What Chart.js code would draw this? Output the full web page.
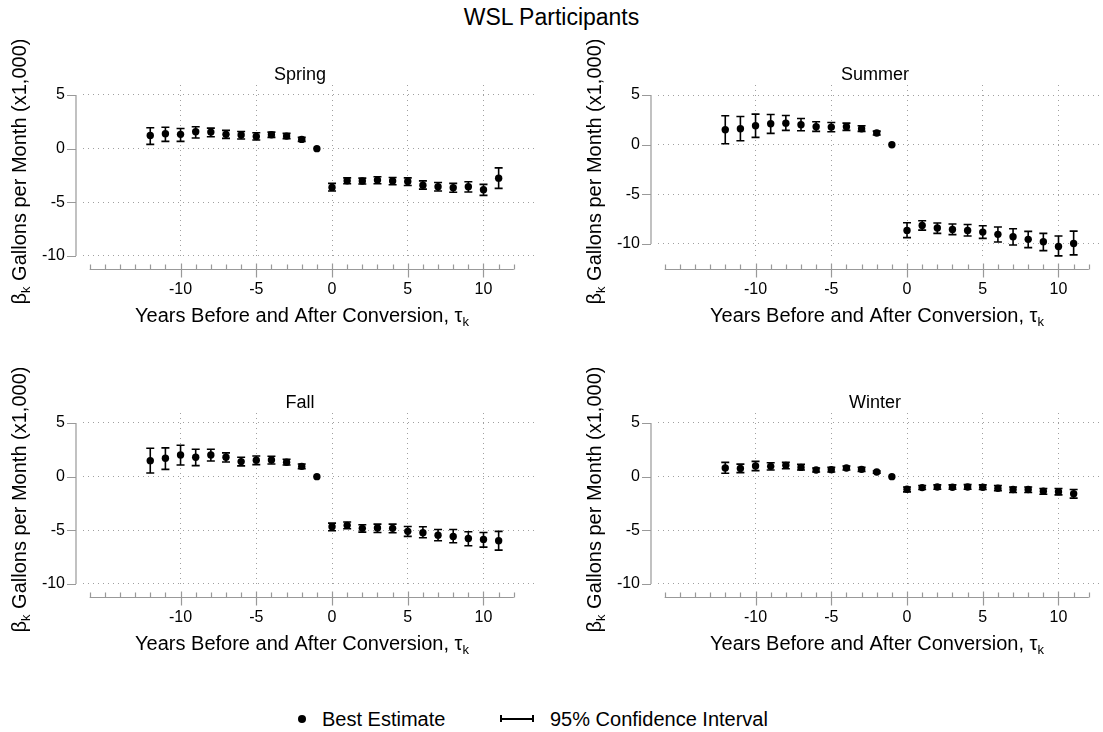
<!DOCTYPE html>
<html>
<head>
<meta charset="utf-8">
<script src="https://cdn.jsdelivr.net/npm/chart.js@4.4.1/dist/chart.umd.min.js"></script>
<style>
  body { margin: 0; width: 1103px; height: 732px; overflow: hidden; background: #fff;
         font-family: "Liberation Sans", Arial, sans-serif; color: #000; position: relative; }
  #title { position: absolute; top: 4px; left: 0; width: 1103px; text-align: center; font-size: 23px; }
  canvas { position: absolute; }
  .leg { position: absolute; top: 707px; font-size: 20px; line-height: 24px; white-space: nowrap; }
  .dot { position: absolute; top: 715px; left: 298px; width: 8px; height: 8px; border-radius: 50%; background: #000; }
  .ci { position: absolute; top: 715px; left: 500px; width: 30px; height: 7px;
        border-left: 2px solid #000; border-right: 2px solid #000; }
  .ci::after { content: ""; position: absolute; left: 0; right: 0; top: 2.5px; height: 2px; background: #000; }
</style>
</head>
<body>
<div id="title">WSL Participants</div>
<canvas id="spring" width="575" height="300" style="left:0;top:40px"></canvas>
<canvas id="summer" width="575" height="300" style="left:575px;top:40px"></canvas>
<canvas id="fall" width="575" height="300" style="left:0;top:368px"></canvas>
<canvas id="winter" width="575" height="300" style="left:575px;top:368px"></canvas>
<span class="dot"></span><span class="leg" style="left:322px">Best Estimate</span>
<span class="ci"></span><span class="leg" style="left:550px">95% Confidence Interval</span>
<script>
// years relative to conversion
const years = [-12,-11,-10,-9,-8,-7,-6,-5,-4,-3,-2,-1,0,1,2,3,4,5,6,7,8,9,10,11];
const xTicks = [-10, -5, 0, 5, 10];
const yTicks = [-10, -5, 0, 5];
const xAxisFrom = -16, xAxisTo = 12;

const springEst = [1.23,1.39,1.33,1.57,1.54,1.33,1.27,1.14,1.30,1.17,0.86,0,-3.61,-3.00,-3.02,-2.93,-3.02,-3.06,-3.40,-3.55,-3.64,-3.55,-3.83,-2.75];
const springHi  = [1.94,2.00,1.88,2.04,1.91,1.70,1.60,1.48,1.54,1.42,1.05,null,-3.24,-2.72,-2.75,-2.62,-2.69,-2.72,-3.00,-3.15,-3.24,-3.09,-3.33,-1.79];
const springLo  = [0.40,0.68,0.68,0.99,1.11,0.96,0.90,0.80,1.05,0.93,0.68,null,-3.95,-3.27,-3.30,-3.27,-3.36,-3.43,-3.77,-3.95,-4.07,-4.04,-4.35,-3.70];

const summerEst = [1.51,1.61,1.91,2.11,2.17,2.00,1.81,1.77,1.81,1.61,1.17,0,-8.63,-8.13,-8.39,-8.53,-8.63,-8.80,-9.03,-9.26,-9.53,-9.77,-10.25,-9.95];
const summerHi  = [2.91,2.84,3.08,3.04,2.94,2.64,2.31,2.24,2.17,1.91,1.37,null,-7.86,-7.66,-7.89,-7.99,-8.03,-8.16,-8.29,-8.46,-8.73,-8.93,-9.20,-8.70];
const summerLo  = [0.10,0.40,0.74,1.14,1.44,1.40,1.34,1.30,1.44,1.34,0.97,null,-9.36,-8.60,-8.93,-9.06,-9.20,-9.43,-9.80,-10.10,-10.37,-10.67,-11.20,-11.10];

const fallEst = [1.49,1.71,2.02,1.81,2.02,1.81,1.40,1.53,1.56,1.34,0.96,0,-4.67,-4.54,-4.82,-4.79,-4.82,-5.10,-5.23,-5.45,-5.57,-5.76,-5.85,-5.98];
const fallHi  = [2.65,2.68,2.93,2.55,2.55,2.21,1.81,1.93,1.90,1.62,1.18,null,-4.33,-4.23,-4.48,-4.42,-4.42,-4.64,-4.67,-4.92,-4.92,-5.14,-5.20,-5.10];
const fallLo  = [0.34,0.68,1.09,1.03,1.46,1.37,1.00,1.12,1.18,1.09,0.75,null,-5.04,-4.86,-5.17,-5.20,-5.23,-5.57,-5.70,-5.98,-6.16,-6.44,-6.57,-6.85];

const winterEst = [0.80,0.77,0.99,0.96,1.05,0.86,0.62,0.65,0.80,0.68,0.43,0,-1.17,-1.02,-0.96,-0.99,-0.96,-0.99,-1.08,-1.20,-1.20,-1.36,-1.40,-1.60];
const winterHi  = [1.33,1.17,1.42,1.30,1.33,1.14,0.80,0.86,0.99,0.86,0.53,null,-0.96,-0.83,-0.77,-0.77,-0.74,-0.77,-0.83,-0.96,-0.96,-1.11,-1.10,-1.20];
const winterLo  = [0.31,0.37,0.56,0.62,0.74,0.62,0.43,0.43,0.62,0.49,0.33,null,-1.42,-1.20,-1.17,-1.17,-1.17,-1.20,-1.30,-1.48,-1.48,-1.64,-1.70,-2.00];

const FONT = '"Liberation Sans", Arial, sans-serif';
const axisGray = '#999';
Chart.defaults.font.family = FONT;
Chart.defaults.color = '#000';

// text with a subscript part
function subText(ctx, parts, x, y) {
  let w = 0;
  parts.forEach(p => { ctx.font = (p.sub ? 13 : 20) + 'px ' + FONT; w += ctx.measureText(p.t).width; });
  let cx = x - w / 2;
  ctx.textAlign = 'left';
  ctx.textBaseline = 'middle';
  parts.forEach(p => {
    ctx.font = (p.sub ? 13 : 20) + 'px ' + FONT;
    ctx.fillText(p.t, cx, y + (p.sub ? 6 : 0));
    cx += ctx.measureText(p.t).width;
  });
}

// error bars, stata style axes and titles
const stata = {
  id: 'stata',
  beforeDatasetsDraw(chart, args, opts) {
    const {ctx, scales: {x, y}} = chart;
    ctx.save();
    ctx.strokeStyle = '#000';
    ctx.lineWidth = 1.6;
    opts.lo.forEach((lo, i) => {
      if (lo === null) return;
      const px = x.getPixelForValue(years[i]);
      const top = y.getPixelForValue(opts.hi[i]);
      const bot = y.getPixelForValue(lo);
      ctx.beginPath();
      ctx.moveTo(px, top); ctx.lineTo(px, bot);
      ctx.moveTo(px - 4, top); ctx.lineTo(px + 4, top);
      ctx.moveTo(px - 4, bot); ctx.lineTo(px + 4, bot);
      ctx.stroke();
    });
    ctx.restore();
  },
  afterDraw(chart, args, opts) {
    const {ctx, chartArea, scales: {x, y}} = chart;
    ctx.save();
    ctx.strokeStyle = axisGray;
    ctx.lineWidth = 1.2;
    // y axis
    const ax = chartArea.left - 7;
    ctx.beginPath();
    ctx.moveTo(ax, y.getPixelForValue(yTicks[yTicks.length - 1]));
    ctx.lineTo(ax, y.getPixelForValue(yTicks[0]));
    yTicks.forEach(v => {
      const py = Math.round(y.getPixelForValue(v)) + 0.5;
      ctx.moveTo(ax - 9, py); ctx.lineTo(ax, py);
    });
    // x axis
    const ay = Math.round(chartArea.bottom + 11) + 0.5;
    ctx.moveTo(x.getPixelForValue(xAxisFrom), ay);
    ctx.lineTo(x.getPixelForValue(xAxisTo), ay);
    for (let v = xAxisFrom; v <= xAxisTo; v++) {
      const px = Math.round(x.getPixelForValue(v)) + 0.5;
      if (xTicks.includes(v)) { ctx.moveTo(px, ay - 6); ctx.lineTo(px, ay + 8); }
      else { ctx.moveTo(px, ay - 5); ctx.lineTo(px, ay); }
    }
    ctx.stroke();
    // titles
    ctx.fillStyle = '#000';
    ctx.font = '18px ' + FONT;
    ctx.textAlign = 'center';
    ctx.textBaseline = 'middle';
    ctx.fillText(opts.name, 300, 35);
    subText(ctx, [{t: 'Years Before and After Conversion, \u03c4'}, {t: 'k', sub: true}], 302, chartArea.bottom + 58);
    ctx.translate(20, (chartArea.top + chartArea.bottom) / 2);
    ctx.rotate(-Math.PI / 2);
    subText(ctx, [{t: '\u03b2'}, {t: 'k', sub: true}, {t: ' Gallons per Month (x1,000)'}], 0, 0);
    ctx.restore();
  }
};

function drawPanel(id, name, est, lo, hi, yMin, yMax) {
  new Chart(id, {
    type: 'scatter',
    data: {
      datasets: [{
        label: 'Best Estimate',
        data: years.map((t, i) => ({x: t, y: est[i]})),
        pointRadius: 3.7,
        pointBorderWidth: 0,
        pointBackgroundColor: '#000'
      }]
    },
    options: {
      responsive: false,
      animation: false,
      layout: {padding: {top: 45, right: 40, left: 0, bottom: 0}},
      plugins: {legend: {display: false}, tooltip: {enabled: false}, stata: {name: name, lo: lo, hi: hi}},
      scales: {
        x: {
          type: 'linear', min: -16.44, max: 13.4,
          afterBuildTicks: s => { s.ticks = xTicks.map(v => ({value: v})); },
          afterFit: s => { s.height = 82; },
          grid: {color: '#a0a0a0', lineWidth: 1, drawTicks: false},
          border: {display: false, dash: [1, 4]},
          ticks: {font: {size: 16}, padding: 22, autoSkip: false, maxRotation: 0}
        },
        y: {
          min: yMin, max: yMax,
          afterBuildTicks: s => { s.ticks = yTicks.map(v => ({value: v})); },
          afterFit: s => { s.width = 83; },
          grid: {color: '#a0a0a0', lineWidth: 1, drawTicks: false},
          border: {display: false, dash: [1, 4]},
          ticks: {font: {size: 16}, padding: 18}
        }
      }
    },
    plugins: [stata]
  });
}

drawPanel('spring', 'Spring', springEst, springLo, springHi, -10.19, 5.93);
drawPanel('summer', 'Summer', summerEst, summerLo, summerHi, -11.41, 6.01);
drawPanel('fall', 'Fall', fallEst, fallLo, fallHi, -10.19, 5.93);
drawPanel('winter', 'Winter', winterEst, winterLo, winterHi, -10.19, 5.93);
</script>
</body>
</html>
